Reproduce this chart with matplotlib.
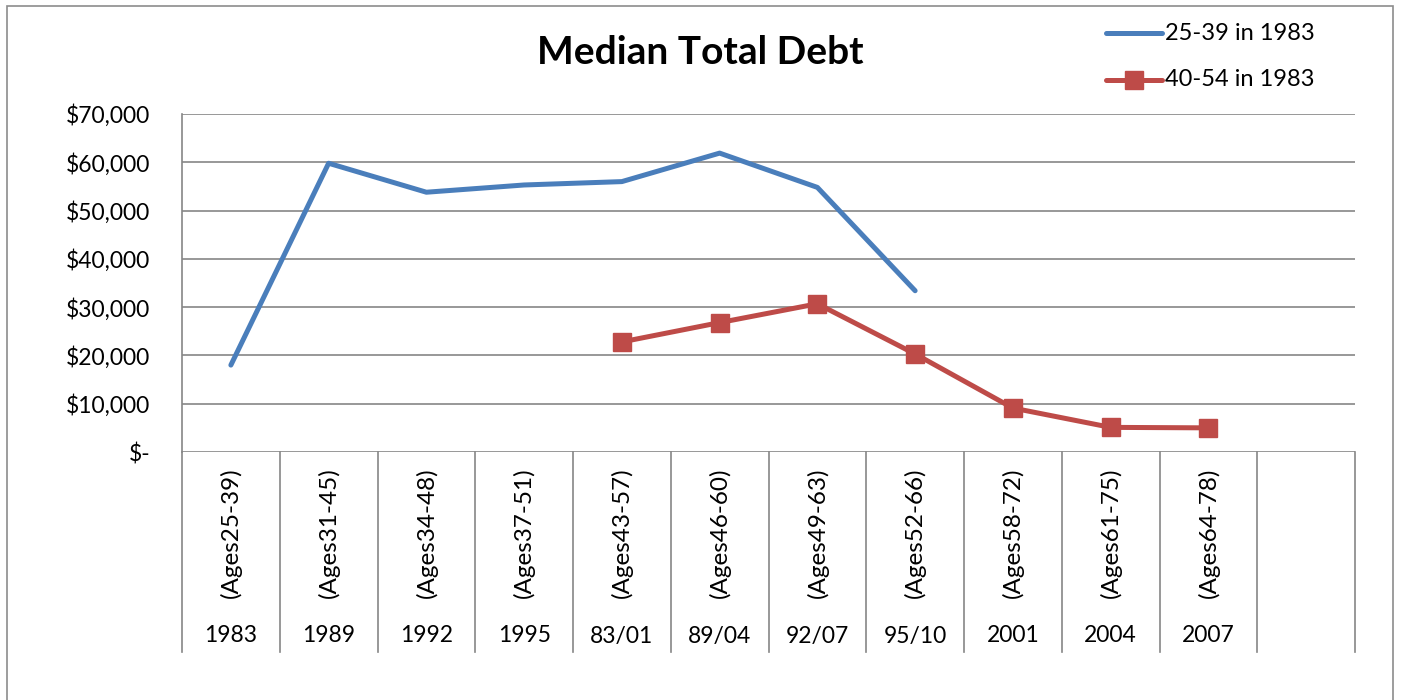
import matplotlib
matplotlib.use("Agg")
import matplotlib.pyplot as plt
import matplotlib.transforms as mtransforms
from matplotlib.patches import Rectangle
from matplotlib.lines import Line2D
import numpy as np

years = ["1983", "1989", "1992", "1995", "83/01", "89/04", "92/07", "95/10", "2001", "2004", "2007", ""]
ages = ["(Ages25-39)", "(Ages31-45)", "(Ages34-48)", "(Ages37-51)", "(Ages43-57)", "(Ages46-60)",
        "(Ages49-63)", "(Ages52-66)", "(Ages58-72)", "(Ages61-75)", "(Ages64-78)", ""]
blue_vals = [18000, 59800, 53800, 55300, 56000, 61900, 54800, 33400]
red_vals = [22800, 26800, 30700, 20300, 9100, 5100, 5000]
red_start = 4
yticks = [0, 10000, 20000, 30000, 40000, 50000, 60000, 70000]
ytick_labels = ["$-", "$10,000", "$20,000", "$30,000", "$40,000", "$50,000", "$60,000", "$70,000"]

plt.rcParams['font.family'] = ['Lato', 'DejaVu Sans']

W, H = 1401, 700
fig = plt.figure(figsize=(W/100, H/100), dpi=100)
fig.patches.append(Rectangle((7/W, -0.01), (1393-7)/W, (700-6)/H + 0.01, transform=fig.transFigure,
                             fill=False, edgecolor='#8c8c8c', linewidth=1.2))

ax = fig.add_axes([182/W, 1-452/H, (1355-182)/W, (452-114)/H])
n = len(years)
ax.set_xlim(0, n)
ax.set_ylim(0, 70000)

grid_c = '#868686'
for v in yticks:
    ax.axhline(v, color=grid_c, linewidth=1.2, zorder=0)
for s in ['top', 'right', 'bottom']:
    ax.spines[s].set_visible(False)
ax.spines['left'].set_color(grid_c)
ax.spines['left'].set_linewidth(1.2)

FS = 16.5
ax.set_yticks(yticks)
ax.set_yticklabels(ytick_labels, fontsize=FS)
ax.tick_params(axis='y', length=0, pad=23)
ax.set_xticks([])

blue_c = '#4a7ebb'
red_c = '#be4b48'
xc = np.arange(n) + 0.5
bx = xc[:len(blue_vals)]
rx = xc[red_start:red_start+len(red_vals)]
ax.plot(bx, blue_vals, color=blue_c, linewidth=3.6, solid_capstyle='round',
        solid_joinstyle='round', zorder=3, clip_on=False)
ax.plot(rx, red_vals, color=red_c, linewidth=3.6, marker='s', markersize=13,
        solid_capstyle='round', zorder=4, clip_on=False)

trans = mtransforms.blended_transform_factory(ax.transData, ax.transAxes)
axh = 452 - 114
def ay(ypix):
    return (452 - ypix) / axh

for i in range(n + 1):
    ax.plot([i, i], [0, ay(652)], transform=trans, color=grid_c, linewidth=1.2, clip_on=False)
for i in range(n):
    ax.text(xc[i], ay(598), ages[i], transform=trans, rotation=90, ha='center', va='bottom', fontsize=17.5)
    ax.text(xc[i], ay(636), years[i], transform=trans, ha='center', va='center', fontsize=FS)

fig.text(700/W, 1-53/H, 'Median Total Debt', ha='center', va='center', fontsize=28, fontweight='bold')

# legend
fig.add_artist(Line2D([1106/W, 1162/W], [1-33/H, 1-33/H], color=blue_c, linewidth=3.6,
                      solid_capstyle='round', transform=fig.transFigure))
fig.add_artist(Line2D([1106/W, 1162/W], [1-80/H, 1-80/H], color=red_c, linewidth=3.6,
                      solid_capstyle='round', transform=fig.transFigure))
fig.add_artist(Line2D([1134/W], [1-80/H], color=red_c, marker='s', markersize=13,
                      linestyle='none', transform=fig.transFigure))
fig.text(1165/W, 1-33/H, '25-39 in 1983', ha='left', va='center', fontsize=17)
fig.text(1165/W, 1-80/H, '40-54 in 1983', ha='left', va='center', fontsize=17)

fig.savefig('out.png', dpi=100)
